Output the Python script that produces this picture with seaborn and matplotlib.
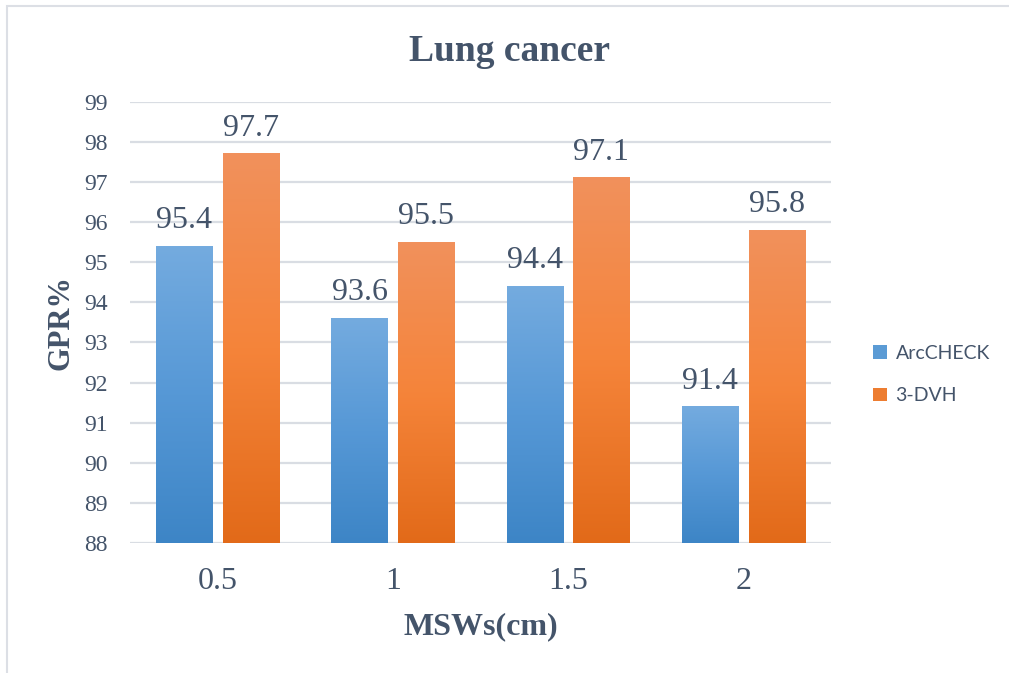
import numpy as np
import pandas as pd
import matplotlib
matplotlib.use("Agg")
import matplotlib.pyplot as plt
import seaborn as sns
from matplotlib.colors import LinearSegmentedColormap
from matplotlib.patches import Rectangle

# Data: gamma passing rate (%) per MLC segment width
msw_labels = ["0.5", "1", "1.5", "2"]
arccheck = [95.4, 93.6, 94.4, 91.4]
dvh3 = [97.7, 95.5, 97.1, 95.8]
series_names = ["ArcCHECK", "3-DVH"]
y_ticks = list(range(88, 100))

df = pd.DataFrame({
    "MSW": msw_labels * 2,
    "GPR": arccheck + dvh3,
    "Device": [series_names[0]] * len(msw_labels) + [series_names[1]] * len(msw_labels),
})

sns.set_theme(style="white")
plt.rcParams["font.family"] = ["Liberation Serif", "DejaVu Serif"]

TEXT = "#44546a"
GRID = "#d9dde3"
palette = {"ArcCHECK": "#5b9bd5", "3-DVH": "#ed7d31"}
gradients = {
    "ArcCHECK": ["#74abdf", "#5698d6", "#3d85c6"],
    "3-DVH": ["#f1915c", "#f5843a", "#e26a19"],
}

fig = plt.figure(figsize=(10.09, 6.73), dpi=100)
ax = fig.add_axes([0.1288, 0.1932, 0.6947, 0.6557])

sns.barplot(data=df, x="MSW", y="GPR", hue="Device", order=msw_labels,
            hue_order=series_names, palette=palette, width=0.76, gap=0.158,
            ax=ax, legend=False, zorder=2)

ymin, ymax = 88, 99
ramp = np.linspace(1, 0, 256).reshape(-1, 1)
for container, name, values in zip(ax.containers, series_names, [arccheck, dvh3]):
    cmap = LinearSegmentedColormap.from_list(name, gradients[name])
    for bar, v in zip(container, values):
        x0, w = bar.get_x(), bar.get_width()
        top = bar.get_height()
        bar.set_visible(False)
        ax.imshow(ramp, cmap=cmap, vmin=0, vmax=1, aspect="auto", origin="lower",
                  extent=[x0, x0 + w, ymin, top], zorder=2, interpolation="bilinear")
        ax.annotate(f"{v}", (x0 + w / 2, top), xytext=(0, 13), textcoords="offset points",
                    ha="center", va="baseline", fontsize=23, color=TEXT)

ax.set_xlim(-0.5, len(msw_labels) - 0.5)
ax.set_ylim(ymin, ymax)
ax.set_yticks(y_ticks)
ax.grid(axis="y", color=GRID, lw=1.6, zorder=0)
ax.set_axisbelow(True)
for s in ax.spines.values():
    s.set_visible(False)

ax.tick_params(axis="y", length=0, pad=16, labelsize=17, labelcolor=TEXT)
ax.tick_params(axis="x", length=0, pad=17, labelsize=23, labelcolor=TEXT)
ax.set_xlabel("MSWs(cm)", fontsize=23, fontweight="bold", color=TEXT, labelpad=12)
ax.set_ylabel("GPR%", fontsize=22, fontweight="bold", color=TEXT, labelpad=6)

fig.text(0.5045, 1 - 61 / 673, "Lung cancer", ha="center", va="baseline",
         fontsize=27, fontweight="bold", color=TEXT)

handles = [Rectangle((0, 0), 1, 1, facecolor=palette[n], edgecolor="none") for n in series_names]
fig.legend(handles, series_names, loc="center left", bbox_to_anchor=(0.848, 0.4435),
           frameon=False, prop={"family": "Lato", "size": 14}, labelcolor=TEXT,
           handlelength=0.7, handleheight=0.7, handletextpad=0.45, labelspacing=1.3)

# thin chart-area frame
fig.patches.append(Rectangle((7 / 1009, -0.1), 1.2, 1.1 - 6 / 673, transform=fig.transFigure,
                             facecolor="none", edgecolor="#dcdfe5", lw=1.5))

fig.savefig("out.png", dpi=100, facecolor="white")
